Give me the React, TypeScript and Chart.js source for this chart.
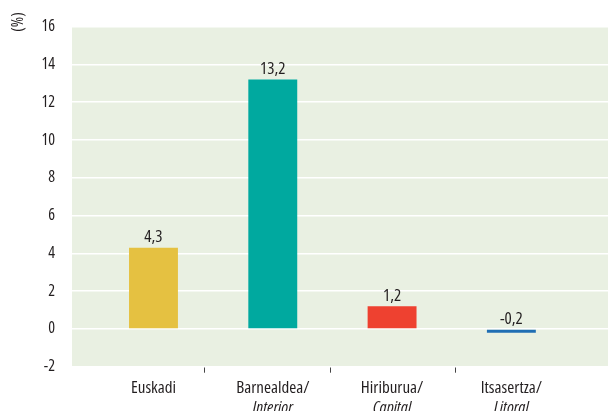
import React, { useEffect, useRef } from "react";
import { Chart, registerables } from "chart.js";

Chart.register(...registerables);

const categories = ["Euskadi", "Barnealdea/", "Hiriburua/", "Itsasertza/"];
const subLabels = ["", "Interior", "Capital", "Litoral"];
const values = [4.3, 13.2, 1.2, -0.2];
const barColors = ["#E5C141", "#00A99F", "#EE4130", "#1F6EB3"];
const yTicks = [-2, 0, 2, 4, 6, 8, 10, 12, 14, 16];
const dividerTicks = [0.43, 1.48, 2.53];
const yTitle = "(%)";

const FAMILY = "'Open Sans', sans-serif";
const STRETCH = "condensed";
const TEXT = "#231F20";
const PLOT_BG = "#E9F0E2";

function setFont(ctx: any, spec: string) {
  ctx.font = spec;
  try {
    ctx.fontStretch = STRETCH;
  } catch (e) {}
}

export default function App() {
  const ref = useRef<HTMLCanvasElement | null>(null);

  useEffect(() => {
    if (!ref.current) return;

    const bgPlugin = {
      id: "plotBg",
      beforeDraw(chart: any) {
        const { ctx, chartArea } = chart;
        ctx.save();
        ctx.fillStyle = PLOT_BG;
        ctx.fillRect(chartArea.left, chartArea.top, chartArea.right - chartArea.left, chartArea.bottom - chartArea.top);
        ctx.restore();
      },
    };

    const textPlugin = {
      id: "extraText",
      afterDraw(chart: any) {
        const { ctx } = chart;
        const xs = chart.scales.x;
        ctx.save();
        const meta = chart.getDatasetMeta(0);
        ctx.fillStyle = TEXT;
        setFont(ctx, `${STRETCH} 17px ${FAMILY}`);
        ctx.textAlign = "center";
        ctx.textBaseline = "alphabetic";
        meta.data.forEach((bar: any, i: number) => {
          const top = Math.min(bar.y, bar.base);
          ctx.fillText(String(values[i]).replace(".", ","), bar.x, top - 5.5);
        });
        setFont(ctx, `italic ${STRETCH} 17px ${FAMILY}`);
        subLabels.forEach((s, i) => {
          if (!s) return;
          ctx.fillText(s, xs.getPixelForValue(i), 413);
        });
        setFont(ctx, `${STRETCH} 16px ${FAMILY}`);
        ctx.translate(18, 22);
        ctx.rotate(-Math.PI / 2);
        ctx.textBaseline = "middle";
        ctx.fillText(yTitle, 0, 0);
        ctx.restore();
      },
    };

    const chart = new Chart(ref.current, {
      type: "bar",
      data: {
        datasets: [
          {
            data: values.map((v, i) => ({ x: i, y: v })),
            backgroundColor: barColors,
            barPercentage: 0.41,
            categoryPercentage: 1,
            xAxisID: "x",
          },
        ],
      },
      options: {
        responsive: false,
        animation: false,
        layout: { padding: { top: 21.7, right: 0, left: 0, bottom: 0 } },
        plugins: { legend: { display: false }, tooltip: { enabled: false } },
        scales: {
          x: {
            type: "linear",
            position: "bottom",
            weight: 1,
            offset: false,
            min: -0.683,
            max: 3.81,
            afterBuildTicks: (s: any) => {
              s.ticks = categories.map((_, i) => ({ value: i }));
            },
            afterFit: (s: any) => {
              s.height = 44.3;
            },
            ticks: {
              autoSkip: false,
              maxRotation: 0,
              padding: 3,
              color: TEXT,
              font: { family: FAMILY, size: 17, weight: STRETCH },
              callback: (v: any) => categories[v] ?? "",
            },
            grid: { display: false, offset: false },
            border: { display: false },
          },
          x2: {
            type: "linear",
            position: "bottom",
            weight: 0,
            offset: false,
            min: -0.683,
            max: 3.81,
            afterBuildTicks: (s: any) => {
              s.ticks = dividerTicks.map((v) => ({ value: v }));
            },
            afterFit: (s: any) => {
              s.height = 0;
            },
            ticks: { display: false },
            grid: { offset: false, drawOnChartArea: false, drawTicks: true, tickLength: 6, color: "#444", lineWidth: 1 },
            border: { display: false },
          },
          y: {
            min: -2,
            max: 16,
            afterBuildTicks: (s: any) => {
              s.ticks = yTicks.map((v) => ({ value: v }));
            },
            afterFit: (s: any) => {
              s.width = 72;
            },
            ticks: {
              padding: 17,
              color: TEXT,
              font: { family: FAMILY, size: 16, weight: STRETCH },
            },
            grid: { color: "#FFFFFF", lineWidth: 1.5, drawTicks: false },
            border: { display: false },
          },
        },
      },
      plugins: [bgPlugin, textPlugin],
    } as any);

    return () => chart.destroy();
  }, []);

  return (
    <div style={{ position: "absolute", left: 0, top: 0, width: 608, height: 411 }}>
      <canvas ref={ref} width={608} height={411} />
    </div>
  );
}
